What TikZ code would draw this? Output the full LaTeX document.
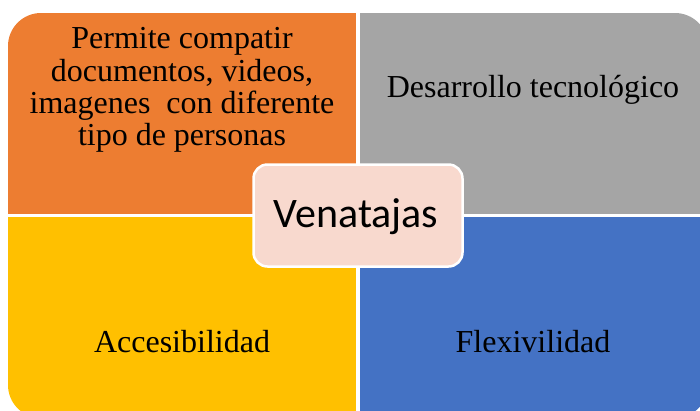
\documentclass[tikz,border=0pt]{standalone}
\usepackage{fontspec}
\setmainfont{Liberation Serif}
\newfontfamily\calibri{Carlito}
\usepackage{tikz}
\usetikzlibrary{positioning}

\definecolor{naranja}{HTML}{ED7D31}
\definecolor{gris}{HTML}{A5A5A5}
\definecolor{amarillo}{HTML}{FFC000}
\definecolor{azul}{HTML}{4472C4}
\definecolor{rosa}{HTML}{F8D9CE}

\begin{document}
\begin{tikzpicture}[
  x=1pt, y=-1pt,
  quad/.style={rectangle, draw=none, inner sep=0pt, minimum width=347.5pt, minimum height=201pt},
  quadtext/.style={font=\fontsize{32}{32.2}\selectfont, align=center, inner sep=0pt},
  centro/.style={rectangle, rounded corners=14pt, draw=white, line width=2.5pt, fill=rosa,
    minimum width=209pt, minimum height=102pt, font=\calibri\fontsize{42}{42}\selectfont}
]
\useasboundingbox (0,0) rectangle (700,410);

% Quadrants
\begin{scope}
  \clip[rounded corners=33pt] (8,13) rectangle (708,418);
  \node[quad, fill=naranja] (q1) at (181.75,113.5) {};
  \node[quad, fill=gris] (q2) at (533.25,113.5) {};
  \node[quad, fill=amarillo] (q3) at (181.75,317.5) {};
  \node[quad, fill=azul] (q4) at (533.25,317.5) {};
\end{scope}

\node[quadtext] (compartir) at (182,90) {Permite compatir\\documentos, videos,\\imagenes\ \ con diferente\\tipo de personas};
\node[quadtext, anchor=base] (desarrollo) at (533,97) {Desarrollo tecnológico};
\node[quadtext, anchor=base] (acceso) at (182,352) {Accesibilidad};
\node[quadtext, anchor=base] (flexi) at (533,352) {Flexivilidad};

\node[centro] (ventajas) at (358,215.5) {};
\node[font=\calibri\fontsize{42}{42}\selectfont, anchor=base] (titulo) at (356,227) {Venatajas};

\end{tikzpicture}
\end{document}
